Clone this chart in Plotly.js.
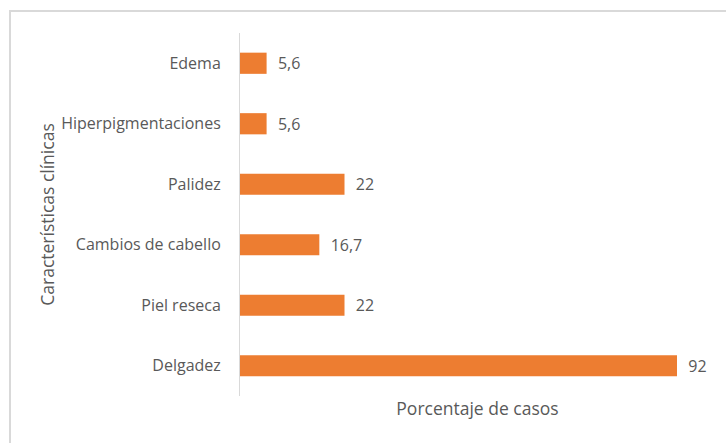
<!DOCTYPE html>
<html>
<head>
<meta charset="utf-8">
<script src="https://cdn.plot.ly/plotly-3.0.1.min.js"></script>
<style>
  html, body { margin: 0; padding: 0; background: #fff; }
  #wrap { position: relative; width: 726px; height: 443px; overflow: hidden; }
  #chart { width: 726px; height: 443px; }
  #frame { position: absolute; left: 9px; top: 10px; width: 800px; height: 500px;
           border: 2px solid #D9D9D9; pointer-events: none; }
</style>
</head>
<body>
<div id="wrap">
  <div id="chart"></div>
  <div id="frame"></div>
</div>
<script>
const categories = ['Delgadez', 'Piel reseca', 'Cambios de cabello', 'Palidez', 'Hiperpigmentaciones', 'Edema'];
const values = [92, 22, 16.7, 22, 5.6, 5.6];
const xTitle = 'Porcentaje de casos';
const yTitle = 'Características clínicas';

const FONT = '"Open Sans", sans-serif';
const GREY = '#595959';

const trace = {
  type: 'bar',
  orientation: 'h',
  y: categories,
  x: values,
  marker: { color: '#ED7D31' },
  texttemplate: '\u00A0\u00A0%{x}',
  textposition: 'outside',
  constraintext: 'none',
  cliponaxis: false,
  textfont: { family: FONT, size: 16, color: GREY },
  hoverinfo: 'none'
};

const layout = {
  width: 726,
  height: 443,
  margin: { l: 240, r: 11, t: 33, b: 47 },
  paper_bgcolor: '#ffffff',
  plot_bgcolor: '#ffffff',
  separators: ',.',
  bargap: 0.65,
  showlegend: false,
  font: { family: FONT, size: 16, color: GREY },
  xaxis: {
    range: [0, 100],
    showgrid: false,
    zeroline: false,
    showline: false,
    showticklabels: false,
    ticks: '',
    title: { text: xTitle, font: { family: FONT, size: 17.5, color: GREY }, standoff: 6 }
  },
  yaxis: {
    type: 'category',
    showgrid: false,
    zeroline: false,
    showline: true,
    linecolor: '#D9D9D9',
    linewidth: 1,
    ticks: '',
    ticklabelstandoff: 15,
    tickfont: { family: FONT, size: 16, color: GREY },
    title: { text: yTitle, font: { family: FONT, size: 17.5, color: GREY }, standoff: 2 }
  }
};

Plotly.newPlot('chart', [trace], layout, { displayModeBar: false, staticPlot: true });
</script>
</body>
</html>
